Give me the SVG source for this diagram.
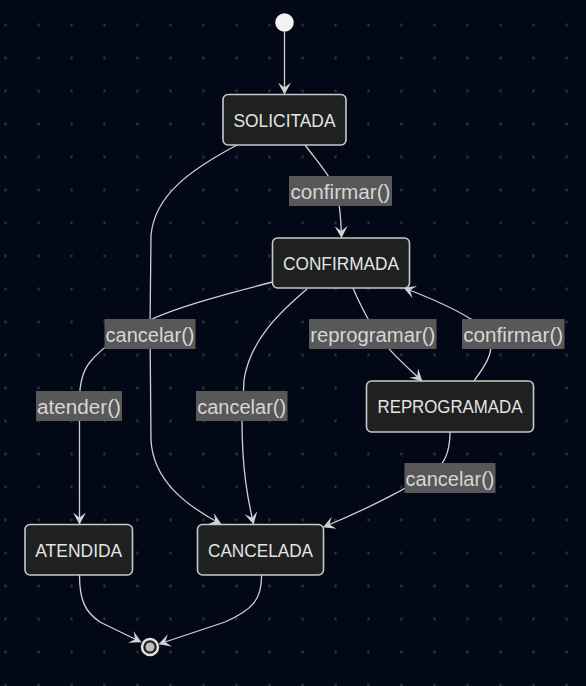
<svg xmlns="http://www.w3.org/2000/svg" width="586" height="686" viewBox="0 0 586 686">
<defs>
<pattern id="dots" x="-11" y="8.5" width="33" height="33" patternUnits="userSpaceOnUse">
<circle cx="16.5" cy="16.5" r="1.4" fill="#2c3140"/>
</pattern>
<marker id="barb" viewBox="0 0 12 14" refX="11.5" refY="7" markerWidth="12" markerHeight="14" markerUnits="userSpaceOnUse" orient="auto">
<path d="M12,7 L0,13.5 L5,7 L0,0.5 Z" fill="#d0d0d0"/>
</marker>
<style>
.node rect{fill:#1f2020;stroke:#c8c8c8;stroke-width:1.6}
.node text{fill:#e4e4e4;font-family:"Liberation Sans",Arial,sans-serif;font-size:18px;text-anchor:middle}
.edge{fill:none;stroke:#d0d0d0;stroke-width:1.3;marker-end:url(#barb)}
.lbl rect{fill:#585858}
.lbl text{fill:#d6d6d6;font-family:"Liberation Sans",Arial,sans-serif;font-size:20.5px;text-anchor:middle}
</style>
</defs>
<rect width="586" height="686" fill="#030816"/>
<rect width="586" height="686" fill="url(#dots)"/>

<g id="connectors">
<path class="edge" d="M284.5,31.5 L284.5,94"/>
<path class="edge" d="M305,145 C317,161 329,174 335,188 C340,200 341,220 341.5,237.5"/>
<path class="edge" d="M237,145 C190,170 155,195 151,235 L150,330 L151,440 C153,480 185,505 221,524"/>
<path class="edge" d="M272.5,282 C230,293 180,306 150,320 C120,334 100,350 90,362 C82,372 79.5,385 79.5,400 L79.5,524"/>
<path class="edge" d="M307,289 C280,312 250,340 244,380 L242,421 C242,470 248,500 253.5,524"/>
<path class="edge" d="M353,288 C358,300 364,312 372,326 C385,348 405,365 422,381"/>
<path class="edge" d="M474,381 C484,367 492,356 491,343 C489,330 480,322 469,318 C450,306 425,296 404,288"/>
<path class="edge" d="M450,432 C450,448 447,458 440,466 C420,482 370,508 323.5,527"/>
<path class="edge" d="M79.5,575 C79.5,600 85,612 100,622 L141,642"/>
<path class="edge" d="M261.5,575 C262,600 252,610 225,622 L159,644"/>
</g>

<g id="labels">
<g class="lbl"><rect x="289" y="176" width="103" height="30"/><text x="340.5" y="198.5" textLength="100" lengthAdjust="spacingAndGlyphs">confirmar()</text></g>
<g class="lbl"><rect x="104.5" y="319" width="91" height="30"/><text x="150" y="341.5" textLength="89" lengthAdjust="spacingAndGlyphs">cancelar()</text></g>
<g class="lbl"><rect x="309" y="319" width="127.5" height="30"/><text x="372.7" y="341.5" textLength="125" lengthAdjust="spacingAndGlyphs">reprogramar()</text></g>
<g class="lbl"><rect x="462" y="319" width="102.5" height="30"/><text x="513.2" y="341.5" textLength="100" lengthAdjust="spacingAndGlyphs">confirmar()</text></g>
<g class="lbl"><rect x="36" y="391" width="86" height="30"/><text x="79" y="413.5" textLength="84" lengthAdjust="spacingAndGlyphs">atender()</text></g>
<g class="lbl"><rect x="196" y="391" width="91.5" height="30"/><text x="241.7" y="413.5" textLength="89" lengthAdjust="spacingAndGlyphs">cancelar()</text></g>
<g class="lbl"><rect x="404.5" y="463" width="91" height="30"/><text x="450" y="485.5" textLength="89" lengthAdjust="spacingAndGlyphs">cancelar()</text></g>
</g>

<g id="start"><circle cx="284.5" cy="22.5" r="9.3" fill="#f2f2f2"/></g>
<g id="SOLICITADA" class="node"><rect x="223" y="94.5" width="123" height="50.5" rx="5"/><text x="284.5" y="126.5" textLength="102" lengthAdjust="spacingAndGlyphs">SOLICITADA</text></g>
<g id="CONFIRMADA" class="node"><rect x="272.5" y="238" width="137" height="50" rx="5"/><text x="341" y="269.5" textLength="116" lengthAdjust="spacingAndGlyphs">CONFIRMADA</text></g>
<g id="REPROGRAMADA" class="node"><rect x="366.5" y="381" width="167" height="51" rx="5"/><text x="450" y="413" textLength="145" lengthAdjust="spacingAndGlyphs">REPROGRAMADA</text></g>
<g id="ATENDIDA" class="node"><rect x="25" y="524.5" width="107.5" height="50.5" rx="5"/><text x="78.75" y="556.5" textLength="87" lengthAdjust="spacingAndGlyphs">ATENDIDA</text></g>
<g id="CANCELADA" class="node"><rect x="197.5" y="524.5" width="126" height="50.5" rx="5"/><text x="260.5" y="556.5" textLength="105" lengthAdjust="spacingAndGlyphs">CANCELADA</text></g>
<g id="end"><circle cx="150" cy="647" r="8" fill="#1f2020" stroke="#e0e0e0" stroke-width="2.5"/><circle cx="150" cy="647" r="4.5" fill="#bdbdbd"/></g>
</svg>
